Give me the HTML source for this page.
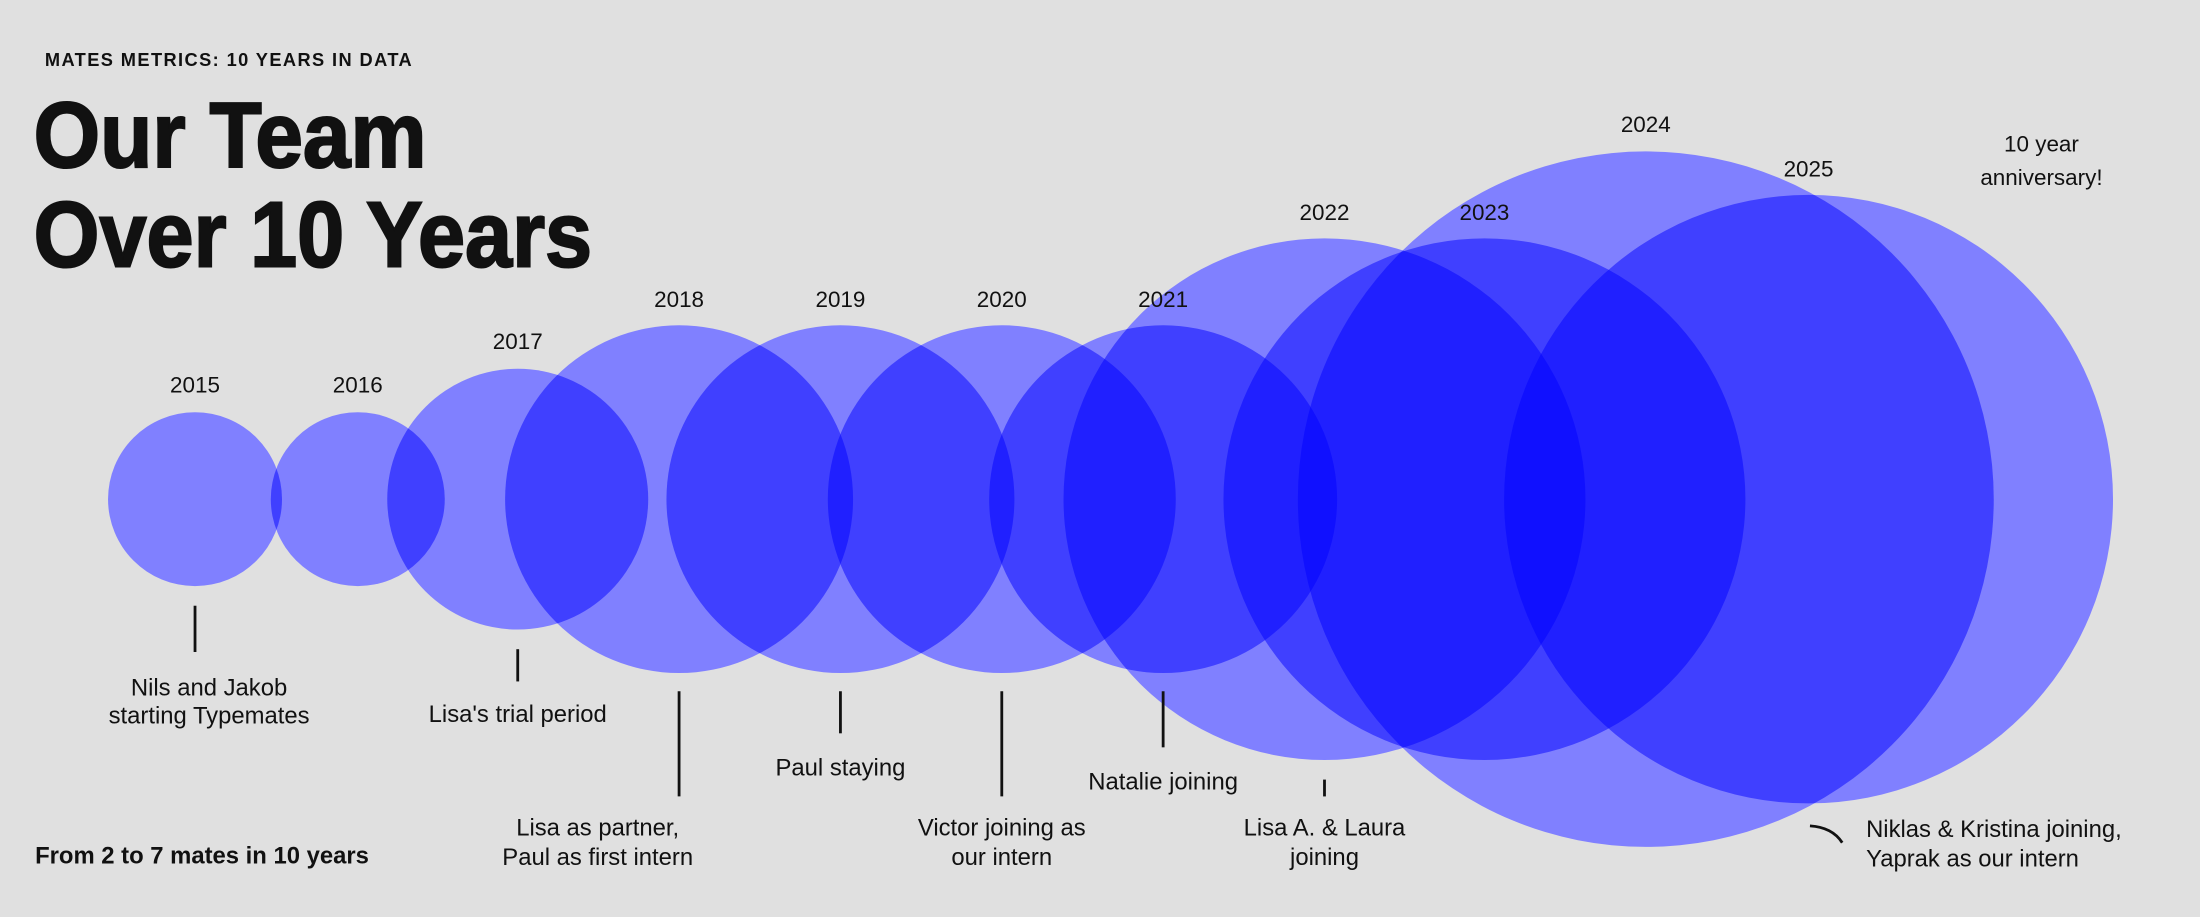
<!DOCTYPE html>
<html><head><meta charset="utf-8"><style>
html,body{margin:0;padding:0;background:#e0e0e0;}
svg{display:block;}
text{font-family:"Liberation Sans",sans-serif;fill:#111;}
.c{mix-blend-mode:multiply;}
</style></head><body>
<svg width="2200" height="917" viewBox="0 0 1568 654" preserveAspectRatio="none" xmlns="http://www.w3.org/2000/svg">
<rect width="1568" height="654" fill="#e0e0e0"/>
<g style="isolation:isolate" fill="#8080ff">
<circle class="c" cx="139" cy="356" r="62"/>
<circle class="c" cx="255" cy="356" r="62"/>
<circle class="c" cx="369" cy="356" r="93"/>
<circle class="c" cx="484" cy="356" r="124"/>
<circle class="c" cx="599" cy="356" r="124"/>
<circle class="c" cx="714" cy="356" r="124"/>
<circle class="c" cx="829" cy="356" r="124"/>
<circle class="c" cx="944" cy="356" r="186"/>
<circle class="c" cx="1058" cy="356" r="186"/>
<circle class="c" cx="1173" cy="356" r="248"/>
<circle class="c" cx="1289" cy="356" r="217"/>
</g>
<text x="32" y="47" font-size="13" letter-spacing="1" font-weight="bold" fill="#222">MATES METRICS: 10 YEARS IN DATA</text>
<text x="24" y="119" font-size="66" font-weight="bold" textLength="280" lengthAdjust="spacingAndGlyphs" stroke="#111" stroke-width="1.5">Our Team</text>
<text x="24" y="190" font-size="66" font-weight="bold" textLength="398" lengthAdjust="spacingAndGlyphs" stroke="#111" stroke-width="1.5">Over 10 Years</text>
<g font-size="16" text-anchor="middle">
<text x="139" y="280">2015</text>
<text x="255" y="280">2016</text>
<text x="369" y="249">2017</text>
<text x="484" y="219">2018</text>
<text x="599" y="219">2019</text>
<text x="714" y="219">2020</text>
<text x="829" y="219">2021</text>
<text x="944" y="157">2022</text>
<text x="1058" y="157">2023</text>
<text x="1173" y="94">2024</text>
<text x="1289" y="126">2025</text>
<text x="1455" y="108">10 year</text>
<text x="1455" y="132">anniversary!</text>
</g>
<g stroke="#111" stroke-width="2" fill="none">
<line x1="139" y1="432" x2="139" y2="465"/>
<line x1="369" y1="463" x2="369" y2="486"/>
<line x1="484" y1="493" x2="484" y2="568"/>
<line x1="599" y1="493" x2="599" y2="523"/>
<line x1="714" y1="493" x2="714" y2="568"/>
<line x1="829" y1="493" x2="829" y2="533"/>
<line x1="944" y1="556" x2="944" y2="568"/>
<path d="M1290 589 Q1306 590 1313 601"/>
</g>
<g font-size="17" text-anchor="middle">
<text x="149" y="496">Nils and Jakob</text>
<text x="149" y="516">starting Typemates</text>
<text x="369" y="515">Lisa's trial period</text>
<text x="426" y="596">Lisa as partner,</text>
<text x="426" y="617">Paul as first intern</text>
<text x="599" y="553">Paul staying</text>
<text x="714" y="596">Victor joining as</text>
<text x="714" y="617">our intern</text>
<text x="829" y="563">Natalie joining</text>
<text x="944" y="596">Lisa A. &amp; Laura</text>
<text x="944" y="617">joining</text>
</g>
<g font-size="17">
<text x="1330" y="597">Niklas &amp; Kristina joining,</text>
<text x="1330" y="618">Yaprak as our intern</text>
<text x="25" y="616" font-weight="bold">From 2 to 7 mates in 10 years</text>
</g>
</svg>
</body></html>
